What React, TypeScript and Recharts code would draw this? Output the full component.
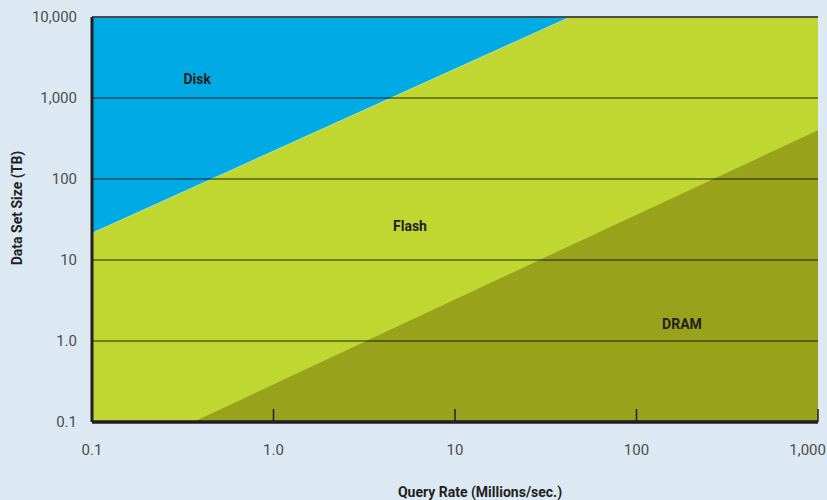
import {
  ComposedChart,
  Area,
  XAxis,
  YAxis,
  ReferenceLine,
  ReferenceDot,
} from "recharts";

// query rate (millions/sec) where the boundaries were read
const rates = [0.1, 43, 1000];
// upper edge of each region (TB)
const diskTop = [10000, 10000, 10000];
const flashTop = [21.5, 10000, 10000];
const dramTop = [0.026, 15, 400];

const xTicks = [0.1, 1, 10, 100, 1000];
const xTickLabels = ["0.1", "1.0", "10", "100", "1,000"];
const yTicks = [0.1, 1, 10, 100, 1000, 10000];
const yTickLabels = ["0.1", "1.0", "10", "100", "1,000", "10,000"];
const gridValues = [1, 10, 100, 1000];

const regionNames = ["Disk", "Flash", "DRAM"];
const regionRates = [0.38, 5.65, 178];
const regionSizes = [1720, 26, 1.6];

const data = rates.map((r, i) => ({
  rate: r,
  disk: diskTop[i],
  flash: flashTop[i],
  dram: dramTop[i],
}));

const fmt = (ticks: number[], labels: string[]) => (v: number) => {
  const i = ticks.findIndex((t) => Math.abs(t - v) < t * 1e-6);
  return i >= 0 ? labels[i] : String(v);
};

const tickStyle = { fill: "#4d4d4d", fontSize: 15, fontFamily: "Roboto" };
const titleStyle = {
  position: "absolute" as const,
  fontFamily: "Roboto",
  fontWeight: 700,
  fontSize: 14,
  color: "#231f20",
  whiteSpace: "nowrap" as const,
};

// bottom tick label; the last one is kept inside the picture
const XTick = (props: any) => {
  const { x, y, payload, index } = props;
  const last = index === xTicks.length - 1;
  return (
    <text
      x={last ? Math.min(x + 8, 826) : x}
      y={y}
      dy="0.71em"
      textAnchor={last ? "end" : "middle"}
      {...tickStyle}
    >
      {fmt(xTicks, xTickLabels)(payload.value)}
    </text>
  );
};

export default function App() {
  return (
    <div
      style={{
        position: "absolute",
        left: 0,
        top: 0,
        width: 827,
        height: 500,
        background: "#dce9f3",
        overflow: "hidden",
      }}
    >
      <ComposedChart
        width={827}
        height={500}
        data={data}
        margin={{ top: 17, right: 9, left: 0, bottom: 0 }}
      >
        <Area
          type="linear"
          dataKey="disk"
          baseValue={0.1}
          fill="#00abe5"
          fillOpacity={1}
          stroke="none"
          isAnimationActive={false}
        />
        <Area
          type="linear"
          dataKey="flash"
          baseValue={0.1}
          fill="#bfd730"
          fillOpacity={1}
          stroke="#ffffff"
          strokeOpacity={0.5}
          strokeWidth={0.8}
          isAnimationActive={false}
        />
        <Area
          type="linear"
          dataKey="dram"
          baseValue={0.1}
          fill="#98a21a"
          fillOpacity={1}
          stroke="none"
          isAnimationActive={false}
        />
        {gridValues.map((v) => (
          <ReferenceLine
            key={v}
            y={v}
            stroke="#000"
            strokeOpacity={0.55}
            strokeWidth={1.5}
          />
        ))}
        <ReferenceLine y={10000} stroke="#4a4a4a" strokeWidth={2} />
        {regionNames.map((name, i) => (
          <ReferenceDot
            key={name}
            x={regionRates[i]}
            y={regionSizes[i]}
            r={0}
            fill="none"
            stroke="none"
            label={{
              value: name,
              position: "center",
              fill: "#231f20",
              fontSize: 14,
              fontWeight: 700,
              fontFamily: "Roboto",
            }}
          />
        ))}
        <XAxis
          dataKey="rate"
          type="number"
          scale="log"
          domain={[0.1, 1000]}
          allowDataOverflow
          ticks={xTicks}
          interval={0}
          height={78}
          tickSize={-13}
          tickMargin={35}
          tickLine={{ stroke: "#231f20", strokeWidth: 1.5 }}
          axisLine={{ stroke: "#231f20", strokeWidth: 3.5 }}
          tick={<XTick />}
        />
        <YAxis
          type="number"
          scale="log"
          domain={[0.1, 10000]}
          allowDataOverflow
          ticks={yTicks}
          interval={0}
          tickFormatter={fmt(yTicks, yTickLabels)}
          width={92}
          tickLine={false}
          tickSize={0}
          tickMargin={15}
          axisLine={{ stroke: "#231f20", strokeWidth: 3 }}
          tick={tickStyle}
        />
      </ComposedChart>
      <div style={{ ...titleStyle, left: 480, top: 492, transform: "translate(-50%, -50%)" }}>
        Query Rate (Millions/sec.)
      </div>
      <div
        style={{
          ...titleStyle,
          left: 17,
          top: 208,
          transform: "translate(-50%, -50%) rotate(-90deg)",
        }}
      >
        Data Set Size (TB)
      </div>
    </div>
  );
}
